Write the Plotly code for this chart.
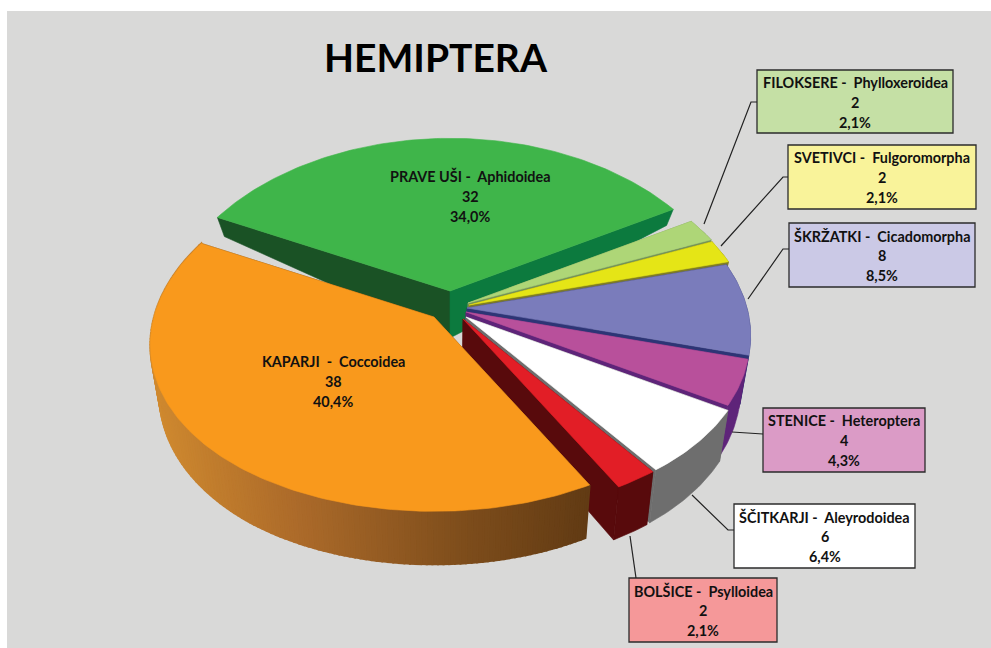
import numpy as np
import plotly.graph_objects as go

# ---- data (clockwise from the green slice) ----
common_names = ["PRAVE UŠI", "FILOKSERE", "SVETIVCI", "ŠKRŽATKI", "STENICE", "ŠČITKARJI", "BOLŠICE", "KAPARJI"]
latin_names = ["Aphidoidea", "Phylloxeroidea", "Fulgoromorpha", "Cicadomorpha", "Heteroptera", "Aleyrodoidea", "Psylloidea", "Coccoidea"]
counts = [32, 2, 2, 8, 4, 6, 2, 38]
title_text = "HEMIPTERA"

# ---- style / layout ----
W, H = 991, 648
PANEL = "#D9D9D8"
top_colors = ["#3FB54A", "#AED677", "#E5E516", "#7A7CBB", "#B8509B", "#FFFFFF", "#E21E26", "#F9991C"]
cut_colors = [("#0C7A3E", "#1A5225"), ("#74935A", "#74935A"), ("#7F7C24", "#7F7C24"), ("#2D3575", "#2D3575"),
              ("#5E2479", "#5E2479"), ("#6E6E6E", "#6E6E6E"), ("#580A0C", "#580A0C"), ("#633C14", "#633C14")]
box_fill = ["", "#C5E0A5", "#F9F39A", "#CBC9E6", "#DB9BC6", "#FFFFFF", "#F59899", ""]
apex = [(450, 291), (468, 303), (469, 305), (467, 308), (466, 312), (466, 317), (463, 319), (434, 317)]
start_deg = -63.0
RX, RY, K, KX = 280.0, 171.0, 0.12, 0.16
boxes = {1: (757, 70, 953, 133), 2: (788, 145, 976, 209), 3: (789, 223, 975, 287),
         4: (763, 408, 925, 472), 5: (734, 504, 915, 568), 6: (629, 578, 777, 642)}
leaders = {1: [(757, 102), (751, 102), (704, 224)], 2: [(788, 177), (783, 177), (721, 246)],
           3: [(789, 249), (783, 249), (748, 299)], 4: [(763, 434), (732, 432)],
           5: [(734, 530), (728, 530), (692, 495)], 6: [(636, 578), (630, 536)]}
inside_label = {0: (470, 196), 7: (333, 381)}
FONT = "Lato"
LINE = 20


def proj(theta_deg):
    t = np.radians(theta_deg)
    u, v = np.sin(t), np.cos(t)
    return RX * u / (1 + KX * v), -RY * v / (1 + K * v)


def down(x, y):
    d = np.interp(y, [209, 291, 470], [16, 47, 53])
    return x + (450 - x) * 0.03, y + d


def poly(fig, xs, ys, color, lw=0.6):
    fig.add_trace(go.Scatter(x=list(xs) + [xs[0]], y=list(ys) + [ys[0]], mode="lines", fill="toself",
                             fillcolor=color, line=dict(color=color, width=lw), hoverinfo="skip", showlegend=False))


def lerp_hex(stops, t):
    xs = [s[0] for s in stops]
    c = [np.interp(t, xs, [int(s[1][i:i + 2], 16) for s in stops]) for i in (1, 3, 5)]
    return "rgb(%d,%d,%d)" % tuple(c)


fig = go.Figure()
total = sum(counts)
cum = start_deg
gradient = [(150, "#D08A30"), (300, "#AB6A2A"), (460, "#7F4E1C"), (590, "#623B14")]
for i, n in enumerate(counts):
    a0, a1 = cum, cum + 360.0 * n / total
    cum = a1
    ax, ay = apex[i]
    th = np.linspace(a0, a1, max(6, int(a1 - a0) + 2))
    px, py = proj(th)
    rx = ax + px
    ry = ay + py
    abx, aby = down(ax, ay)
    # cut faces
    bx, by = down(rx[0], ry[0])
    poly(fig, [ax, rx[0], bx, abx], [ay, ry[0], by, aby], cut_colors[i][1])
    bx, by = down(rx[-1], ry[-1])
    poly(fig, [ax, rx[-1], bx, abx], [ay, ry[-1], by, aby], cut_colors[i][0])
    # outer wall (the far side of the green slice is hidden)
    if i == 7:
        for j in range(len(th) - 1):
            b0 = down(rx[j], ry[j])
            b1 = down(rx[j + 1], ry[j + 1])
            col = lerp_hex(gradient, (rx[j] + rx[j + 1]) / 2)
            poly(fig, [rx[j], rx[j + 1], b1[0], b0[0]], [ry[j], ry[j + 1], b1[1], b0[1]], col, lw=2)
    elif i != 0:
        bot = [down(a, b) for a, b in zip(rx, ry)]
        poly(fig, list(rx) + [p[0] for p in bot][::-1], list(ry) + [p[1] for p in bot][::-1], cut_colors[i][0])
    # top
    poly(fig, [ax] + list(rx), [ay] + list(ry), top_colors[i])

shapes = [dict(type="rect", x0=7, y0=11, x1=W, y1=H, fillcolor=PANEL, line_width=0, layer="below")]
annotations = [dict(x=436, y=57, text="<b>%s</b>" % title_text, showarrow=False,
                    font=dict(family=FONT, size=39, color="#000000"), xanchor="center", yanchor="middle")]


def put_label(i, cx, y0):
    pct = f"{100 * counts[i] / total:.1f}%".replace(".", ",")
    sep = "\u00a0\u00a0-\u00a0\u00a0" if i == 7 else " -\u00a0\u00a0"
    for k, txt in enumerate([common_names[i] + sep + latin_names[i], str(counts[i]), pct]):
        annotations.append(dict(x=cx, y=y0 + k * LINE, text="<b>%s</b>" % txt, showarrow=False,
                                font=dict(family=FONT, size=14.4, color="#111111"),
                                xanchor="center", yanchor="middle"))


for i, (x0, y0, x1, y1) in boxes.items():
    shapes.append(dict(type="rect", x0=x0, y0=y0, x1=x1, y1=y1, fillcolor=box_fill[i],
                       line=dict(color="#2B2B2B", width=1.3)))
    pts = leaders[i]
    path = "M " + " L ".join(f"{a} {b}" for a, b in pts)
    shapes.append(dict(type="path", path=path, line=dict(color="#222222", width=1.2)))
    put_label(i, (x0 + x1) / 2, y0 + 12.5)
for i, (cx, cy) in inside_label.items():
    put_label(i, cx, cy - 20)

fig.update_layout(width=W, height=H, margin=dict(l=0, r=0, t=0, b=0), paper_bgcolor="#FFFFFF",
                  plot_bgcolor="rgba(0,0,0,0)", showlegend=False, shapes=shapes, annotations=annotations,
                  xaxis=dict(range=[0, W], visible=False, fixedrange=True),
                  yaxis=dict(range=[H, 0], visible=False, fixedrange=True))
fig.write_html("out.html", config=dict(displayModeBar=False),
               post_script="document.body.style.margin='0';document.body.style.overflow='hidden';")
